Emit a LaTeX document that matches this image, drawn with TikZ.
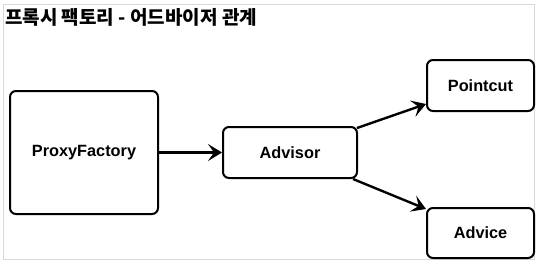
\documentclass[tikz,border=0pt]{standalone}
\usepackage{fontspec}
\setmainfont{Liberation Sans}
\newfontfamily\krfont{Noto Sans CJK KR}
\usetikzlibrary{arrows.meta,calc}
\begin{document}
\begin{tikzpicture}[x=1pt,y=-1pt,
  box/.style={draw=black,line width=2pt,rounded corners=6pt,inner sep=0pt,font=\fontsize{16.3}{19}\selectfont\bfseries},
  conn/.style={line width=2.4pt,-{Stealth[length=14pt,width=17pt,inset=6pt]}}]
\useasboundingbox (0,0) rectangle (540,269);
\draw[gray!30,line width=1pt] (3,4) rectangle (534,259);
\node[anchor=west,inner sep=0pt,font=\krfont\fontsize{19}{22}\selectfont\bfseries] (title) at (5,17) {프록시 팩토리 - 어드바이저 관계};
\node[box,minimum width=148pt,minimum height=123pt] (pf) at (84,152.5) {ProxyFactory};
\node[box,minimum width=134pt,minimum height=51pt] (adv) at (290,152.5) {Advisor};
\node[box,minimum width=107pt,minimum height=51pt] (pc) at (480.5,85.5) {Pointcut};
\node[box,minimum width=107pt,minimum height=50pt] (ad) at (480.5,233) {Advice};
\draw[conn] (pf.east) -- (adv.west);
\draw[conn] ($(adv.north east)+(-1,2)$) -- ($(pc.south west)+(0,-8)$);
\draw[conn] ($(adv.south east)+(-5,0)$) -- ($(ad.north west)+(0,2)$);
\end{tikzpicture}
\end{document}
